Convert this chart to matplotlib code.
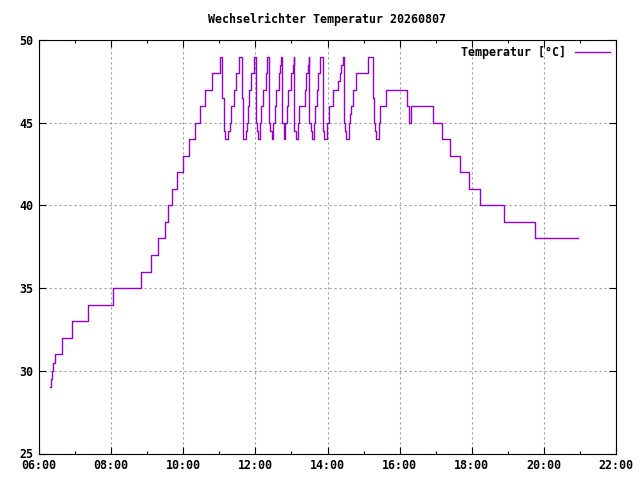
import matplotlib
matplotlib.use("Agg")
import matplotlib.pyplot as plt
from matplotlib.ticker import MultipleLocator, FuncFormatter

# Messwerte (Uhrzeit, Temperatur in Grad C), als Treppe gezeichnet
zeiten = ["06:19", "06:20", "06:22", "06:24", "06:26", "06:39", "06:55", "07:22",
          "08:03", "08:50", "09:07", "09:18", "09:29", "09:35", "09:42", "09:50",
          "10:00", "10:10", "10:19", "10:28", "10:37", "10:48", "11:01", "11:05",
          "11:08", "11:10", "11:15", "11:18", "11:19", "11:24", "11:27", "11:33",
          "11:38", "11:40", "11:44", "11:46", "11:48", "11:50", "11:53", "11:58",
          "12:01", "12:03", "12:04", "12:08", "12:10", "12:13", "12:17", "12:19",
          "12:23", "12:25", "12:27", "12:30", "12:33", "12:35", "12:39", "12:41",
          "12:43", "12:44", "12:45", "12:47", "12:50", "12:53", "12:55", "12:59",
          "13:02", "13:04", "13:05", "13:08", "13:11", "13:13", "13:22", "13:24",
          "13:27", "13:29", "13:30", "13:32", "13:34", "13:37", "13:39", "13:42",
          "13:45", "13:48", "13:53", "13:55", "13:59", "14:02", "14:09", "14:17",
          "14:20", "14:23", "14:25", "14:27", "14:29", "14:31", "14:35", "14:37",
          "14:39", "14:42", "14:48", "15:07", "15:15", "15:17", "15:19", "15:21",
          "15:25", "15:28", "15:37", "16:13", "16:16", "16:19", "16:56", "17:10",
          "17:24", "17:40", "17:56", "18:13", "18:53", "19:45", "20:57"]
temperatur = [29, 29.5, 30, 30.5, 31, 32, 33, 34,
              35, 36, 37, 38, 39, 40, 41, 42,
              43, 44, 45, 46, 47, 48, 49, 46.5,
              44.5, 44, 44.5, 45, 46, 47, 48, 49,
              46.5, 44, 44.5, 45, 46, 47, 48, 49,
              45, 44.5, 44, 45, 46, 47, 48, 49,
              45, 44.5, 44, 45, 46, 47, 48, 48.5,
              49, 46.5, 45, 44, 45, 46, 47, 48,
              48.5, 49, 44.5, 44, 45, 46, 47, 48,
              48.5, 49, 45, 44.5, 44, 45, 46, 47,
              48, 49, 44.5, 44, 45, 46, 47, 47.5,
              48, 48.5, 49, 45, 44.5, 44, 45, 45.5,
              46, 47, 48, 49, 46.5, 45, 44.5, 44,
              45, 46, 47, 46, 45, 46, 45, 44,
              43, 42, 41, 40, 39, 38, 38]

titel = "Wechselrichter Temperatur 20260807"
legende = "Temperatur [°C]"

stunden = [int(z[:2]) + int(z[3:]) / 60 for z in zeiten]

plt.rcParams['font.family'] = ['DejaVu Sans Mono']
plt.rcParams['font.weight'] = 'bold'

fig = plt.figure(figsize=(6.4, 4.8), dpi=100)
ax = fig.add_axes([39 / 640, 26.5 / 480, 577 / 640, 413.5 / 480])

ax.plot(stunden, temperatur, color='#9400d3', linewidth=1.0,
        drawstyle='steps-post', label=legende)

ax.set_xlim(6, 22)
ax.set_ylim(25, 50)
ax.xaxis.set_major_locator(MultipleLocator(2))
ax.xaxis.set_minor_locator(MultipleLocator(1))
ax.yaxis.set_major_locator(MultipleLocator(5))
ax.xaxis.set_major_formatter(FuncFormatter(lambda v, p: "%02d:00" % int(round(v))))

ax.tick_params(which='both', direction='in', top=True, right=True,
               labelsize=8.4, width=0.8, color='black')
ax.tick_params(which='major', length=5, pad=4)
ax.tick_params(which='minor', length=2.5)
for s in ax.spines.values():
    s.set_linewidth(0.8)

ax.grid(True, which='major', color='#a0a0a0', linestyle=(0, (2, 2.5)), linewidth=0.8)

ax.set_title(titel, fontsize=8.4, fontweight='bold', pad=12)

leg = ax.legend(loc='upper right', frameon=False, fontsize=8.4,
                markerfirst=False, handlelength=3.0, borderaxespad=0.1)

fig.savefig("out.png", dpi=100)
